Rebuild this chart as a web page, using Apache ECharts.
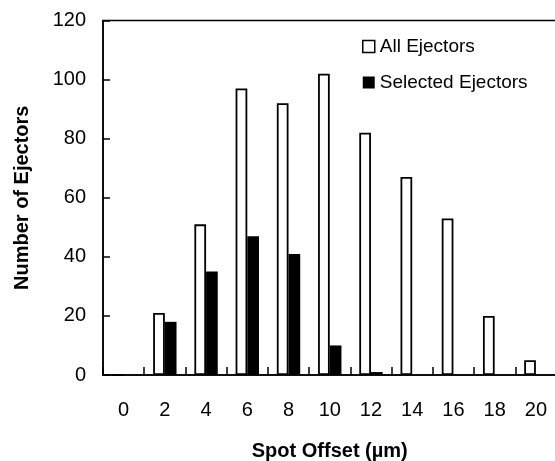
<!DOCTYPE html>
<html><head><meta charset="utf-8">
<script src="https://cdn.jsdelivr.net/npm/echarts@6/dist/echarts.min.js"></script>
<style>html,body{margin:0;padding:0;background:#fff}#c{width:555px;height:461px}</style>
</head><body><div id="c"></div>
<script>
var categories = ['0','2','4','6','8','10','12','14','16','18','20'];
var allEjectors = [0,21,51,97,92,102,82,67,53,20,5];
var selectedEjectors = [0,18,35,47,41,10,1,0,0,0,0];
var yTicks = {min:0, max:120, interval:20};

var chart = echarts.init(document.getElementById('c'), null, {renderer:'canvas'});
var font = 'Liberation Sans, Arial, sans-serif';
chart.setOption({
  animation:false,
  backgroundColor:'#fff',
  grid:{left:103, top:20.5, right:-1.5, bottom:86, containLabel:false, outerBoundsMode:'none',
        show:true, borderColor:'#000', borderWidth:1.5, backgroundColor:'transparent'},
  legend:{
    orient:'vertical', left:362, top:37, padding:0, itemWidth:12, itemHeight:12, itemGap:17,
    icon:'rect',
    textStyle:{fontFamily:font, fontSize:19, color:'#000'},
    data:[
      {name:'All Ejectors', itemStyle:{color:'#fff', borderColor:'#000', borderWidth:1.5}},
      {name:'Selected Ejectors', itemStyle:{color:'#000'}}
    ]
  },
  xAxis:{
    type:'category', data:categories,
    axisLine:{lineStyle:{color:'#000', width:1.5}},
    axisTick:{show:true, inside:true, length:8, interval:0, lineStyle:{color:'#000', width:1.5}},
    axisLabel:{fontFamily:font, fontSize:20, color:'#000', margin:25},
    name:'Spot Offset (\u00b5m)', nameLocation:'middle', nameGap:66,
    nameTextStyle:{fontFamily:font, fontSize:20, fontWeight:'bold', color:'#000'}
  },
  yAxis:{
    type:'value', min:yTicks.min, max:yTicks.max, interval:yTicks.interval,
    splitLine:{show:false},
    axisLine:{show:true, lineStyle:{color:'#000', width:1.5}},
    axisTick:{show:true, inside:true, length:7, lineStyle:{color:'#000', width:1.5}},
    axisLabel:{fontFamily:font, fontSize:20, color:'#000', margin:17},
    name:'Number of Ejectors', nameLocation:'middle', nameGap:71,
    nameTextStyle:{fontFamily:font, fontSize:20, fontWeight:'bold', color:'#000'}
  },
  series:[
    {name:'All Ejectors', type:'bar', data:allEjectors, barWidth:11.7, barGap:'0%',
     itemStyle:{color:'#fff', borderColor:'#000', borderWidth:1.8}},
    {name:'Selected Ejectors', type:'bar', data:selectedEjectors, barWidth:11.7,
     itemStyle:{color:'#000'}}
  ]
});
</script></body></html>
